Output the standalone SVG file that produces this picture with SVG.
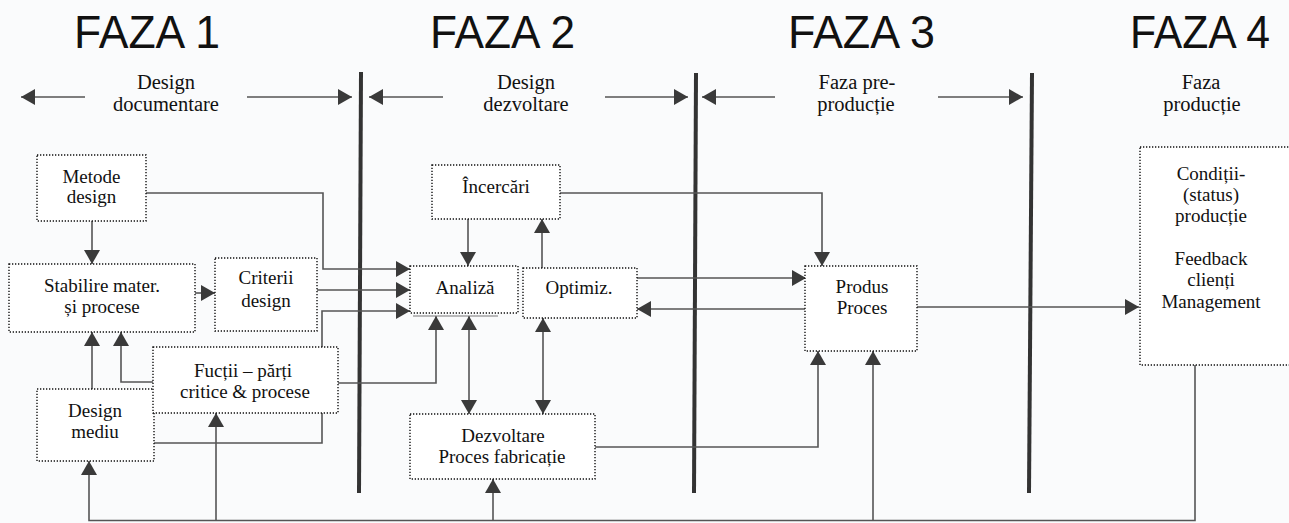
<svg xmlns="http://www.w3.org/2000/svg" width="1289" height="523" viewBox="0 0 1289 523">
  <style>
    .faza { font-family: 'Liberation Sans', Arial, sans-serif; font-size: 46px; fill: #111; }
    .hdr { font-family: 'Liberation Serif', 'DejaVu Serif', 'Times New Roman', serif; font-size: 20.5px; fill: #111; text-anchor: middle; }
    .lbl { font-family: 'Liberation Serif', 'DejaVu Serif', 'Times New Roman', serif; font-size: 19px; fill: #111; text-anchor: middle; }
    .box { fill: #ffffff; stroke: #111; stroke-width: 1.4; stroke-dasharray: 1.3 1.7; }
    .con { fill: none; stroke: #555; stroke-width: 1.6; }
    .bar { stroke: #333; stroke-width: 4; }
  </style>
  <defs>
    <marker id="ah" viewBox="0 0 14 16" refX="14" refY="8" markerWidth="14" markerHeight="16" markerUnits="userSpaceOnUse" orient="auto-start-reverse">
      <path d="M0,0 L14,8 L0,16 z" fill="#3a3a3a"/>
    </marker>
  </defs>
  <rect x="0" y="0" width="1289" height="523" fill="#fafbfc"/>

  <g id="phase-titles">
    <text class="faza" x="74" y="48" textLength="146" lengthAdjust="spacingAndGlyphs">FAZA 1</text>
    <text class="faza" x="430" y="48" textLength="145" lengthAdjust="spacingAndGlyphs">FAZA 2</text>
    <text class="faza" x="788" y="48" textLength="147" lengthAdjust="spacingAndGlyphs">FAZA 3</text>
    <text class="faza" x="1130" y="48" textLength="140" lengthAdjust="spacingAndGlyphs">FAZA 4</text>
  </g>

  <g id="phase-labels" font-family="Liberation Serif, DejaVu Serif, serif">
    <text class="hdr" x="166" y="89">Design</text>
    <text class="hdr" x="166" y="111">documentare</text>
    <text class="hdr" x="526" y="89">Design</text>
    <text class="hdr" x="526" y="111">dezvoltare</text>
    <text class="hdr" x="857" y="89">Faza pre-</text>
    <text class="hdr" x="856" y="111">producție</text>
    <text class="hdr" x="1201" y="89">Faza</text>
    <text class="hdr" x="1202" y="111">producție</text>
  </g>

  <g id="phase-bars">
    <line class="bar" x1="361" y1="72" x2="359" y2="493"/>
    <line class="bar" x1="696" y1="73" x2="694" y2="493"/>
    <line class="bar" x1="1032" y1="73" x2="1029" y2="493"/>
  </g>

  <g id="connectors">
    <path class="con" d="M85,97 L21,97" marker-end="url(#ah)"/>
    <path class="con" d="M247,97 L352,97" marker-end="url(#ah)"/>
    <path class="con" d="M443,97 L369,97" marker-end="url(#ah)"/>
    <path class="con" d="M605,97 L688,97" marker-end="url(#ah)"/>
    <path class="con" d="M775,97 L702,97" marker-end="url(#ah)"/>
    <path class="con" d="M938,97 L1023,97" marker-end="url(#ah)"/>
    <path class="con" d="M92,221 L92,264" marker-end="url(#ah)"/>
    <path class="con" d="M195,293 L215,293" marker-end="url(#ah)"/>
    <path class="con" d="M146,193 L323,193 L323,269 L410,269" marker-end="url(#ah)"/>
    <path class="con" d="M317,290 L410,290" marker-end="url(#ah)"/>
    <path class="con" d="M154,443 L322,443 L322,311 L410,311" marker-end="url(#ah)"/>
    <path class="con" d="M92,389 L92,332" marker-end="url(#ah)"/>
    <path class="con" d="M153,382 L121,382 L121,332" marker-end="url(#ah)"/>
    <path class="con" d="M338,383 L436,383 L436,316" marker-end="url(#ah)"/>
    <path class="con" d="M468,219 L468,266" marker-end="url(#ah)"/>
    <path class="con" d="M542,268 L542,219" marker-end="url(#ah)"/>
    <path class="con" d="M469,316 L469,414" marker-start="url(#ah)" marker-end="url(#ah)"/>
    <path class="con" d="M543,318 L543,414" marker-start="url(#ah)" marker-end="url(#ah)"/>
    <path class="con" d="M560,193 L822,193 L822,266" marker-end="url(#ah)"/>
    <path class="con" d="M637,278 L806,278" marker-end="url(#ah)"/>
    <path class="con" d="M806,309 L637,309" marker-end="url(#ah)"/>
    <path class="con" d="M595,447 L818,447 L818,351" marker-end="url(#ah)"/>
    <path class="con" d="M917,307 L1139,307" marker-end="url(#ah)"/>
    <path class="con" d="M1195,365 L1195,520.5 L89,520.5 L89,461" marker-end="url(#ah)"/>
    <path class="con" d="M216,520.5 L216,413" marker-end="url(#ah)"/>
    <path class="con" d="M493,520.5 L493,479" marker-end="url(#ah)"/>
    <path class="con" d="M873,520.5 L873,351" marker-end="url(#ah)"/>
  </g>

  <g font-family="Liberation Serif, DejaVu Serif, serif">
  <g id="metode">
    <rect class="box" x="37" y="155" width="109" height="66"/>
    <text class="lbl" x="91.5" y="183">Metode</text>
    <text class="lbl" x="91.5" y="203">design</text>
  </g>
  <g id="stabilire">
    <rect class="box" x="9" y="264" width="186" height="68"/>
    <text class="lbl" x="102" y="292">Stabilire mater.</text>
    <text class="lbl" x="102" y="313">și procese</text>
  </g>
  <g id="criterii">
    <rect class="box" x="215" y="258" width="102" height="73"/>
    <text class="lbl" x="266" y="284">Criterii</text>
    <text class="lbl" x="266" y="307">design</text>
  </g>
  <g id="design-mediu">
    <rect class="box" x="37" y="389" width="117" height="72"/>
    <text class="lbl" x="95" y="417">Design</text>
    <text class="lbl" x="95" y="438">mediu</text>
  </g>
  <g id="functii">
    <rect class="box" x="153" y="347" width="185" height="66"/>
    <text class="lbl" x="243" y="377">Fucții – părți</text>
    <text class="lbl" x="245" y="398">critice &amp; procese</text>
  </g>
  <g id="incercari">
    <rect class="box" x="432" y="165" width="128" height="54"/>
    <text class="lbl" x="496" y="193">Încercări</text>
  </g>
  <g id="analiza">
    <rect class="box" x="410" y="266" width="108" height="47"/>
    <line x1="413" y1="316" x2="498" y2="316" stroke="#777" stroke-width="1.2"/>
    <text class="lbl" x="465" y="294">Analiză</text>
  </g>
  <g id="optimiz">
    <rect class="box" x="523" y="268" width="114" height="50"/>
    <text class="lbl" x="579" y="294">Optimiz.</text>
  </g>
  <g id="dezvoltare">
    <rect class="box" x="410" y="414" width="185" height="65"/>
    <text class="lbl" x="503" y="442">Dezvoltare</text>
    <text class="lbl" x="502" y="463">Proces fabricație</text>
  </g>
  <g id="produs">
    <rect class="box" x="805" y="266" width="112" height="85"/>
    <text class="lbl" x="862" y="293">Produs</text>
    <text class="lbl" x="862" y="314">Proces</text>
  </g>
  <g id="conditii">
    <rect class="box" x="1140" y="147" width="170" height="218"/>
    <text class="lbl" x="1211" y="180">Condiții-</text>
    <text class="lbl" x="1211" y="201">(status)</text>
    <text class="lbl" x="1211" y="222">producție</text>
    <text class="lbl" x="1211" y="265">Feedback</text>
    <text class="lbl" x="1211" y="286">clienți</text>
    <text class="lbl" x="1211" y="308">Management</text>
  </g>
  </g>
</svg>
